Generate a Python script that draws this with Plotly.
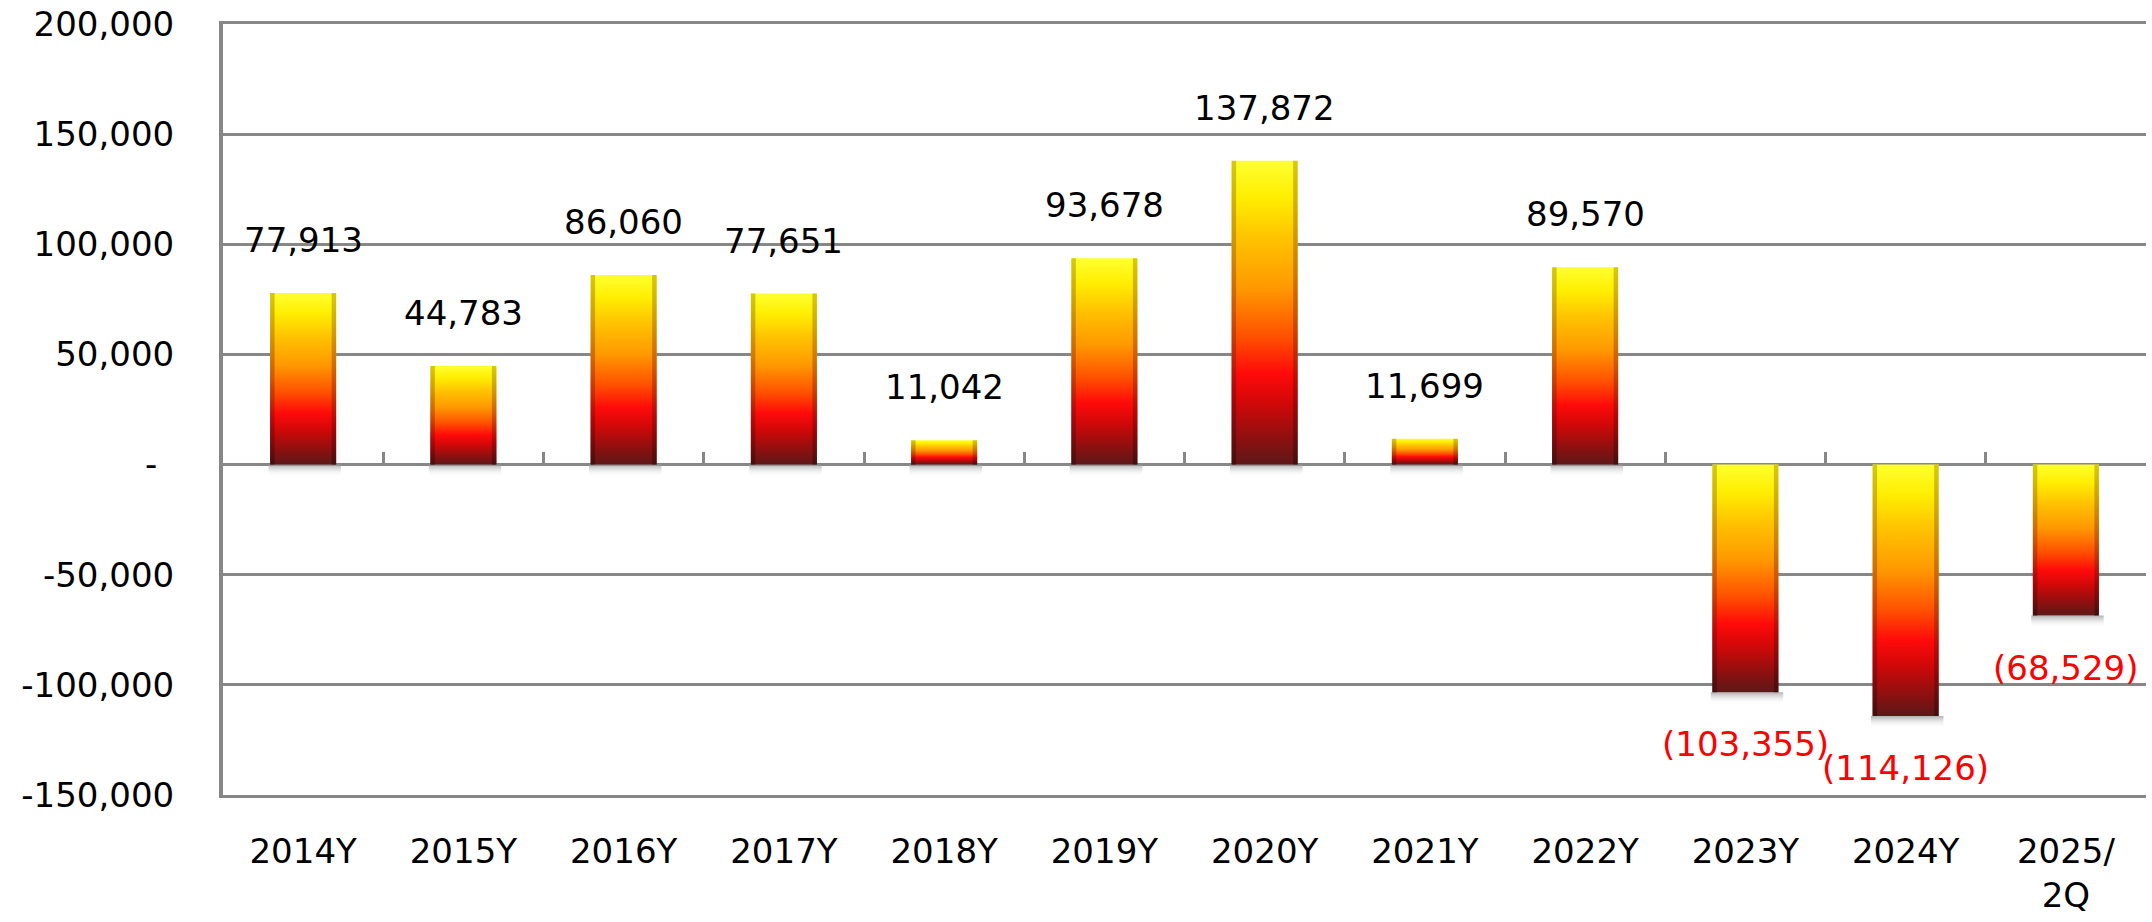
import plotly.graph_objects as go

categories = ["2014Y", "2015Y", "2016Y", "2017Y", "2018Y", "2019Y", "2020Y",
              "2021Y", "2022Y", "2023Y", "2024Y", "2025/<br>2Q"]
values = [77913, 44783, 86060, 77651, 11042, 93678, 137872,
          11699, 89570, -103355, -114126, -68529]
y_tick_vals = [200000, 150000, 100000, 50000, 0, -50000, -100000, -150000]
y_tick_text = ["200,000", "150,000", "100,000", "50,000", "-\u2002",
               "-50,000", "-100,000", "-150,000"]

FONT = "DejaVu Sans"
GRID = "#878787"
BAR_W = 0.412
EDGE_W = 0.028
SHADOW_H = 5500

bar_scale = [
    [0.0, "#5c1818"], [0.08, "#8a1010"], [0.2, "#d00808"], [0.3, "#ff0a0a"],
    [0.42, "#ff5000"], [0.58, "#ff9800"], [0.75, "#ffc400"], [0.88, "#ffee00"],
    [1.0, "#ffff30"],
]
edge_scale = [
    [0.0, "#3a0c0c"], [0.25, "#a00808"], [0.5, "#c04a00"], [0.75, "#c08a00"],
    [1.0, "#c8b800"],
]
shadow_scale = [[0.0, "rgba(255,255,255,0)"], [1.0, "rgba(150,150,150,0.75)"]]

fig = go.Figure()

for i, v in enumerate(values):
    lo, hi = min(0, v), max(0, v)
    # soft shadow below the bar
    fig.add_trace(go.Scatter(
        x=[i - BAR_W / 2 - 0.01, i + BAR_W / 2 + 0.03, i + BAR_W / 2 + 0.03, i - BAR_W / 2 - 0.01, i - BAR_W / 2 - 0.01],
        y=[lo - SHADOW_H, lo - SHADOW_H, lo, lo, lo - SHADOW_H],
        fill="toself", mode="lines", line=dict(width=0),
        fillgradient=dict(type="vertical", colorscale=shadow_scale),
        hoverinfo="skip", showlegend=False,
    ))
    # main bar body
    fig.add_trace(go.Scatter(
        x=[i - BAR_W / 2, i + BAR_W / 2, i + BAR_W / 2, i - BAR_W / 2, i - BAR_W / 2],
        y=[lo, lo, hi, hi, lo],
        fill="toself", mode="lines", line=dict(width=0),
        fillgradient=dict(type="vertical", colorscale=bar_scale),
        name=categories[i], hovertemplate="%{y:,}<extra></extra>", showlegend=False,
    ))
    # bevel edges
    for x0 in (i - BAR_W / 2, i + BAR_W / 2 - EDGE_W):
        fig.add_trace(go.Scatter(
            x=[x0, x0 + EDGE_W, x0 + EDGE_W, x0, x0],
            y=[lo, lo, hi, hi, lo],
            fill="toself", mode="lines", line=dict(width=0),
            fillgradient=dict(type="vertical", colorscale=edge_scale),
            opacity=0.75, hoverinfo="skip", showlegend=False,
        ))

# data labels
for i, v in enumerate(values):
    txt = f"{v:,}" if v >= 0 else f"({abs(v):,})"
    fig.add_annotation(
        x=i, y=v, text=txt, showarrow=False, xanchor="center", yanchor="middle",
        yshift=53 if v >= 0 else -52,
        font=dict(family=FONT, size=34, color="#000000" if v >= 0 else "#ff0000"),
    )

# tick marks on the zero line
fig.add_trace(go.Scatter(x=[], y=[], xaxis="x2", showlegend=False, hoverinfo="skip"))

fig.update_layout(
    width=2152, height=922,
    margin=dict(l=223, r=6, t=24, b=127),
    paper_bgcolor="white", plot_bgcolor="white",
    font=dict(family=FONT, size=34, color="#000000"),
    xaxis=dict(
        range=[-0.5, 11.5], tickvals=list(range(len(categories))), ticktext=categories,
        showgrid=False, zeroline=False, ticks="", ticklabelstandoff=24,
        showline=True, linecolor=GRID, linewidth=3, mirror=True, automargin=False,
        ticklabeloverflow="allow",
        tickfont=dict(family=FONT, size=34, color="#000000"),
    ),
    xaxis2=dict(
        range=[-0.5, 11.5], overlaying="x", anchor="free", position=150000 / 350000,
        tickvals=[k + 0.5 for k in range(len(categories))], ticks="inside", ticklen=13,
        tickwidth=3, tickcolor=GRID, showticklabels=False, showgrid=False,
        zeroline=False, showline=False, side="bottom", automargin=False,
    ),
    yaxis=dict(
        range=[-150000, 200000], tickvals=y_tick_vals, ticktext=y_tick_text,
        showgrid=True, gridcolor=GRID, gridwidth=3,
        zeroline=True, zerolinecolor=GRID, zerolinewidth=3,
        showline=True, linecolor=GRID, linewidth=4, automargin=False,
        ticks="", ticklabelstandoff=38, ticklabeloverflow="allow",
        tickfont=dict(family=FONT, size=34, color="#000000"),
    ),
)

# remove the default 8px page margin so the figure fills the window exactly
fig.write_html("out.html", config={"displayModeBar": False},
               post_script="document.body.style.margin='0px';")
